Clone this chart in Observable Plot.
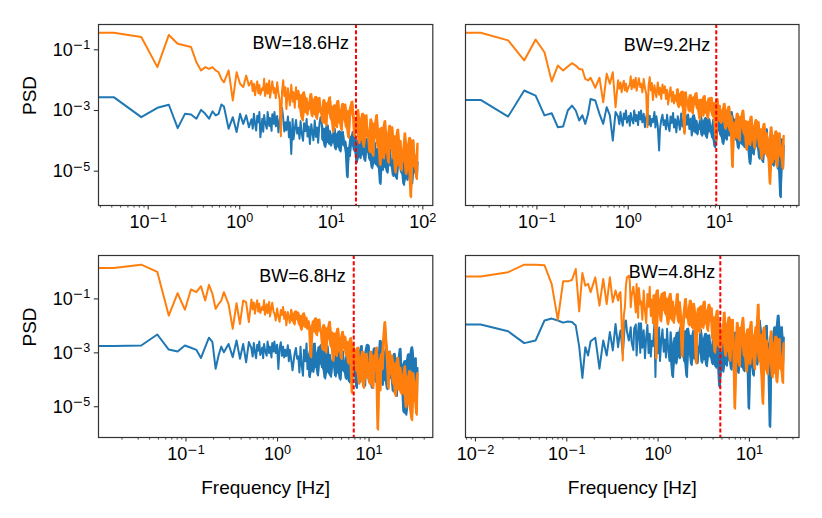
<!DOCTYPE html>
<html><head><meta charset="utf-8">
<script src="https://cdn.jsdelivr.net/npm/d3@7"></script>
<script src="https://cdn.jsdelivr.net/npm/@observablehq/plot@0.6"></script>
<style>
body{margin:0;background:#fff;}
#chart{position:relative;width:822px;height:518px;background:#fff;overflow:hidden;}
#chart svg{position:absolute;}
</style></head><body><div id="chart"></div>
<script>
// FFT bin indices (frequency = bin * df) of the points kept from each spectrum
const bins = [1,2,3,4,5,6,7,8,9,10,11,12,13,14,15,16,18,20,22,24,26,28,30,
32,33,34,35,36,37,38,39,40,42,43,44,45,47,48,50,51,53,54,56,57,59,61,63,65,67,69,71,73,75,77,80,82,84,87,90,92,95,98,101,104,107,110,113,117,120,124,128,131,135,139,144,148,152,157,162,167,171,177,182,187,193,199,205,211,217,224,231,237,245,252,259,267,275,284,292,
301,310,319,329,339,349,359,370,381,393,404,416,429,442,455,469,483,497,512,528,543,560,577,594,612,630,649,668,688,709,730,752,775,798,822,847,872,898,925,953,981,1011,1041,1072,1105,1138,1172,1207,1243,1281,1319,1359,1399,1441,1485,1529,1575,1622,1671,1721,1773,1826,1881,1937,1995,2055,2090];

// frequency resolution of each panel [Hz]
const dfTL = 0.042, dfTR = 0.0242, dfBL = 0.0162, dfBR = 0.0114;
// bandwidth markers [Hz]
const bwTL = 18.6, bwTR = 9.2, bwBL = 6.8, bwBR = 4.8;

// PSD values, stored as log10(PSD)
const tlBlue = [-2.56,-3.22,-2.91,-2.81,-3.58,-3.11,-3.13,-3.27,-2.98,-3.11,-3.27,-3.03,-3.16,-3.11,-2.80,-2.87,-3.60,-3.22,-3.71,-3.11,-3.44,-3.16,-3.55,
-3.29,-3.60,-3.11,-3.45,-3.66,-3.17,-3.39,-3.05,-3.88,-3.27,
-3.70,-3.15,-3.38,-3.60,-3.05,-3.51,-3.25,-3.67,-3.12,-3.44,
-3.05,-3.52,-3.18,-3.72,-3.32,-3.08,-2.92,-3.25,-3.69,-3.39,
-3.65,-3.20,-3.88,-3.39,-4.43,-3.28,-3.95,-3.61,-3.31,-3.76,
-3.57,-3.93,-3.35,-3.75,-4.00,-3.42,-3.68,-3.28,-3.86,-3.53,
-4.10,-3.45,-3.72,-3.98,-3.33,-3.87,-3.56,-4.06,-3.41,-3.22,
-3.45,-3.98,-3.60,-4.20,-3.75,-3.49,-4.09,-3.68,-4.16,-3.83,
-4.05,-3.60,-4.28,-3.79,-4.20,-3.68,-4.35,-3.94,-3.71,-4.16,
-4.02,-4.42,-5.20,-4.22,-4.50,-3.86,-4.14,-3.70,-4.34,-3.98,
-4.70,-3.98,-4.28,-4.57,-3.85,-4.45,-4.11,-4.66,-3.94,-4.36,
-4.00,-4.63,-4.18,-4.90,-4.36,-4.05,-4.77,-4.27,-4.86,-4.45,
-5.42,-4.15,-4.96,-4.38,-4.87,-4.24,-5.05,-4.56,-4.29,-4.83,
-4.68,-5.16,-4.40,-4.92,-5.25,-4.49,-4.82,-4.30,-5.06,-4.63,
-5.45,-4.56,-4.93,-5.29,-4.40,-5.14,-4.72,-5.40,-4.51,-5.03,
-4.50,-5.20,-4.70];
const tlOrange = [-0.44,-0.58,-1.57,-0.51,-0.80,-0.86,-0.91,-1.41,-1.68,-1.57,-1.63,-1.57,-1.68,-1.74,-1.96,-2.07,-1.68,-2.67,-1.74,-2.12,-2.23,-1.85,-2.18,
-2.02,-2.36,-2.12,-2.50,-2.21,-2.04,-2.43,-2.16,-2.48,-2.26,
-2.33,-1.95,-2.52,-2.11,-2.45,-2.01,-2.58,-2.23,-2.04,-2.42,
-2.26,-2.59,-2.07,-2.42,-2.65,-3.85,-2.36,-2.00,-2.52,-2.23,
-2.95,-2.27,-2.55,-2.83,-2.15,-2.71,-2.39,-2.91,-2.23,-2.63,
-2.35,-2.92,-2.50,-3.18,-3.33,-2.40,-3.05,-2.60,-3.14,-2.76,
-2.95,-2.46,-3.20,-2.66,-3.12,-2.55,-3.28,-2.82,-2.58,-3.08,
-2.93,-3.40,-2.65,-3.16,-3.49,-2.75,-3.07,-2.56,-3.30,-2.89,
-3.70,-2.83,-3.19,-3.55,-2.68,-3.39,-2.99,-3.65,-2.78,-3.29,
-2.80,-3.57,-3.02,-3.90,-3.24,-2.86,-2.70,-3.13,-3.85,-3.35,
-3.71,-2.98,-4.08,-3.29,-3.96,-3.10,-4.20,-3.53,-3.16,-3.90,
-3.69,-4.37,-3.29,-4.03,-4.50,-3.42,-3.89,-3.15,-4.23,-3.63,
-4.80,-3.57,-4.08,-4.58,-3.35,-4.37,-3.79,-4.73,-3.50,-4.22,
-3.55,-4.60,-3.85,-5.05,-4.15,-3.63,-4.83,-4.00,-4.98,-4.30,
-4.65,-3.75,-5.10,-4.13,-4.95,-3.90,-5.86,-4.43,-3.98,-4.88,
-4.53,-5.26,-4.09];

const trBlue = [-2.65,-3.20,-2.34,-2.51,-3.16,-3.09,-3.55,-3.53,-3.00,-2.84,-3.00,-3.33,-3.16,-3.44,-3.11,-2.62,-2.67,-3.11,-3.44,-2.89,-3.16,-3.99,-3.05,
-3.20,-3.45,-3.05,-3.33,-3.50,-3.10,-3.28,-3.00,-3.40,-3.18,
-3.50,-3.08,-3.25,-3.43,-3.00,-3.35,-3.15,-3.48,-3.05,-3.30,
-3.00,-3.39,-3.11,-3.55,-3.22,-3.03,-3.47,-3.17,-3.52,-3.28,
-3.39,-3.05,-3.56,-3.19,-3.51,-4.32,-3.62,-3.31,-3.14,-3.48,
-3.32,-3.62,-3.14,-3.47,-3.68,-3.20,-3.41,-3.08,-3.56,-3.29,
-3.72,-3.19,-3.41,-3.63,-3.10,-3.53,-3.29,-3.69,-3.16,-3.47,
-3.13,-3.61,-3.27,-3.82,-3.41,-3.16,-3.72,-3.34,-3.79,-3.48,
-3.61,-3.18,-3.83,-3.36,-3.76,-3.25,-3.90,-3.50,-3.29,-3.72,
-3.53,-3.92,-3.30,-4.21,-4.00,-3.38,-3.65,-3.22,-3.84,-3.49,
-4.10,-3.29,-3.63,-3.96,-3.15,-3.82,-3.44,-3.05,-3.25,-3.72,
-3.30,-3.97,-3.49,-4.25,-3.68,-3.35,-4.11,-3.59,-4.20,-3.78,
-4.05,-3.45,-4.35,-4.76,-4.25,-3.55,-4.45,-3.90,-3.60,-4.20,
-4.05,-4.59,-3.73,-4.32,-4.70,-3.84,-4.21,-3.62,-4.48,-4.00,
-5.00,-4.00,-4.41,-4.82,-3.82,-4.65,-4.17,-4.94,-3.94,-5.86,
-3.95,-4.85,-4.15];
const trOrange = [-0.44,-0.69,-1.35,-0.66,-1.08,-2.04,-1.52,-1.68,-1.55,-1.44,-1.52,-1.63,-1.65,-1.96,-2.01,-1.92,-2.25,-1.92,-2.73,-1.79,-2.12,-1.74,-2.89,
-2.00,-2.28,-2.08,-2.40,-2.16,-2.02,-2.34,-2.12,-2.38,-2.20,
-2.16,-1.87,-2.30,-1.99,-2.25,-1.92,-2.35,-2.09,-1.94,-2.23,
-2.12,-2.40,-1.96,-2.26,-2.45,-3.55,-2.20,-1.90,-2.34,-2.09,
-2.65,-2.17,-2.37,-2.56,-2.08,-2.48,-2.25,-2.62,-2.14,-2.42,
-2.20,-2.62,-2.32,-2.80,-2.44,-2.23,-2.71,-2.38,-2.77,-2.50,
-2.69,-2.30,-2.89,-2.46,-2.82,-2.37,-2.95,-3.77,-2.40,-2.79,
-2.69,-3.03,-2.49,-2.86,-3.10,-2.56,-2.79,-2.42,-2.96,-2.66,
-3.30,-2.64,-2.91,-3.18,-2.52,-3.07,-2.75,-3.26,-2.60,-2.99,
-2.58,-3.19,-2.75,-3.45,-3.99,-2.62,-3.32,-2.84,-3.41,-3.02,
-3.33,-2.78,-3.61,-3.01,-3.52,-2.87,-3.70,-3.19,-4.87,-3.47,
-3.40,-3.90,-3.10,-3.65,-4.00,-3.20,-3.55,-3.00,-3.80,-3.35,
-4.30,-3.37,-3.75,-4.14,-3.20,-3.97,-3.53,-4.25,-3.31,-3.86,
-3.38,-4.23,-3.62,-4.60,-3.87,-3.44,-4.42,-3.75,-4.54,-3.99,
-5.42,-3.55,-4.72,-3.88,-4.59,-3.68,-4.85,-4.14,-3.75,-4.53,
-4.24,-4.92,-3.83];

const blBlue = [-2.75,-2.73,-2.32,-2.88,-2.95,-2.73,-2.81,-2.89,-3.19,-2.79,-2.44,-2.60,-3.59,-3.10,-2.77,-2.98,-2.67,-3.16,-2.54,-3.22,-2.67,-3.35,-2.60,
-2.83,-3.14,-2.64,-2.98,-3.20,-2.70,-2.92,-2.58,-3.08,-2.80,
-3.20,-2.67,-2.89,-3.11,-2.58,-3.01,-2.77,-3.17,-2.64,-2.95,
-2.58,-3.01,-2.70,-3.60,-2.83,-2.61,-3.11,-2.77,-3.17,-2.89,
-3.12,-2.72,-3.31,-2.89,-3.25,-3.65,-3.38,-3.02,-2.82,-3.22,
-3.13,-3.73,-2.77,-3.43,-3.85,-2.89,-3.31,-2.65,-3.61,-3.07,
-3.90,-2.84,-3.28,-3.71,-2.65,-3.53,-3.03,-3.84,-2.78,-3.40,
-2.70,-3.58,-2.95,-3.95,-3.20,-2.76,-3.76,-3.08,-3.89,-3.33,
-3.50,-2.75,-3.88,-3.06,-3.75,-2.88,-4.00,-3.31,-2.94,-3.69,
-3.32,-3.97,-2.93,-3.65,-4.10,-3.06,-3.52,-2.80,-3.84,-3.26,
-4.30,-2.98,-3.53,-4.07,-2.75,-3.84,-3.22,-4.22,-2.90,-2.70,
-2.75,-3.84,-3.06,-4.30,-3.37,-2.83,-4.07,-3.22,-4.22,-3.53,
-2.55,-2.70,-4.19,-3.11,-4.02,-2.87,-4.35,-3.44,-2.95,-3.94,
-3.55,-4.43,-3.03,-3.99,-4.60,-3.20,-3.81,-2.85,-4.25,-3.46,
-5.20,-3.30,-5.30,-4.90,-3.05,-4.21,-3.55,-2.79,-3.22,-4.04,
-3.20,-4.90,-3.56];
const blOrange = [0.15,0.27,0.00,-1.62,-0.79,-1.40,-0.65,-0.75,-0.53,-1.06,-0.48,-0.81,-1.37,-1.19,-1.06,-0.75,-1.19,-2.11,-1.16,-1.93,-1.06,-1.12,-1.86,
-1.02,-1.39,-1.13,-1.55,-1.23,-1.05,-1.47,-1.18,-1.52,-1.29,
-1.41,-1.05,-1.59,-1.20,-1.53,-1.11,-1.65,-1.32,-1.14,-1.50,
-1.52,-1.80,-1.36,-1.66,-1.85,-1.41,-1.60,-1.30,-1.74,-1.49,
-1.98,-1.49,-1.69,-1.89,-1.40,-1.81,-1.57,-1.95,-1.46,-1.75,
-1.50,-1.96,-1.63,-2.15,-1.76,-1.53,-2.05,-1.70,-2.12,-1.83,
-2.07,-3.16,-2.28,-1.83,-2.21,-1.72,-2.35,-1.97,-1.76,-2.18,
-2.31,-2.89,-1.97,-2.60,-3.00,-2.08,-2.48,-1.85,-2.77,-2.25,
-3.30,-2.28,-2.70,-3.12,-2.10,-2.94,-2.46,-3.24,-2.22,-2.82,
-2.40,-3.10,-2.60,-3.40,-2.80,-2.45,-4.50,-2.70,-3.35,-2.90,
-3.70,-2.80,-4.15,-3.18,-4.00,-2.95,-4.30,-3.48,-3.03,-3.93,
-3.40,-4.15,-2.95,-3.78,-4.30,-3.10,-3.63,-2.80,-5.85,-3.33,
-4.40,-3.04,-3.60,-2.40,-1.86,-2.55,-3.28,-4.32,-2.96,-3.76,
-3.10,-4.15,-3.40,-4.60,-3.70,-3.18,-4.38,-3.55,-4.53,-3.85,
-4.52,-3.50,-5.03,-3.93,-4.86,-3.67,-5.20,-5.50,-3.76,-4.78,
-4.10,-5.30,-3.75];

const brBlue = [-1.95,-2.20,-2.64,-2.54,-1.80,-1.73,-1.80,-1.88,-1.84,-1.86,-1.99,-2.77,-3.93,-2.79,-3.10,-2.57,-2.44,-3.59,-2.54,-3.10,-2.23,-2.91,-1.93,
-2.79,-2.40,-2.17,-2.60,-3.04,-2.50,-1.85,-1.80,-2.20,-2.54,
-2.30,-2.05,-2.60,-2.90,-2.10,-1.95,-3.10,-2.20,-1.90,-3.00,
-1.90,-2.81,-2.16,-3.20,-2.42,-1.97,-3.01,-2.29,-3.14,-2.55,
-2.75,-1.92,-3.90,-2.27,-3.02,-2.06,-3.30,-2.54,-2.13,-2.96,
-2.51,-3.17,-2.11,-2.84,-3.30,-2.24,-2.71,-3.90,-3.04,-2.44,
-3.40,-2.25,-2.73,-3.20,-2.05,-3.00,-2.46,-3.33,-2.19,-3.90,
-2.10,-3.05,-2.37,-3.45,-2.64,-2.17,-3.25,-2.51,-3.38,-2.78,
-2.96,-2.15,-3.37,-2.49,-3.23,-2.29,-3.50,-2.76,-2.35,-3.16,
-2.74,-3.42,-2.34,-3.08,-3.55,-2.47,-2.94,-4.27,-3.28,-2.67,
-3.70,-2.47,-2.98,-3.48,-2.25,-3.27,-2.69,-3.63,-2.40,-3.12,
-2.25,-3.30,-2.55,-3.75,-2.85,-2.33,-3.53,-2.70,-3.68,-3.00,
-3.19,-2.20,-5.07,-2.61,-3.52,-2.37,-3.85,-2.94,-2.45,-3.44,
-2.80,-1.80,-2.20,-3.30,-4.00,-2.40,-3.10,-2.00,-3.60,-2.70,
-5.75,-2.35,-3.05,-3.75,-2.05,-3.45,-2.65,-1.62,-2.25,-3.25,
-2.05,-3.38,-2.43];
const brOrange = [-0.17,-0.01,0.27,0.27,0.25,-0.45,-1.78,-0.35,-0.35,-0.30,0.11,-1.46,-0.04,-0.51,-0.44,-0.75,-0.20,-1.25,-0.26,-1.19,-0.20,-1.12,-0.69,
-1.06,-0.80,-0.75,-1.90,-3.28,-1.60,-1.31,-0.50,-0.20,-0.14,
-0.35,-1.31,-0.90,-0.55,-0.81,-1.50,-0.45,-1.70,-0.60,-1.20,
-1.09,-1.77,-0.69,-1.43,-1.90,-0.82,-1.29,-0.55,-1.63,-1.02,
-1.90,-0.86,-1.29,-3.22,-0.68,-1.53,-1.05,-1.84,-0.80,-1.41,
-0.75,-1.59,-0.99,-1.95,-1.23,-0.81,-1.77,-1.11,-1.89,-1.35,
-1.53,-0.82,-1.88,-1.12,-1.76,-3.15,-2.00,-1.35,-1.00,-1.71,
-1.41,-1.99,-1.06,-1.70,-2.10,-1.18,-1.58,-3.40,-1.87,-1.35,
-2.25,-1.27,-1.68,-2.08,-1.10,-1.91,-1.45,-2.19,-1.21,-1.79,
-1.35,-2.51,-1.68,-3.00,-2.01,-1.43,-2.75,-1.85,-2.92,-2.18,
-2.58,-1.50,-3.12,-1.95,-2.94,-1.68,-3.30,-2.31,-1.77,-2.85,
-5.07,-3.32,-1.88,-2.87,-3.50,-2.06,-2.69,-1.70,-3.14,-2.33,
-3.70,-2.13,-2.78,-3.42,-1.85,-3.15,-2.41,-3.61,-2.04,-2.96,
-1.21,-3.32,-2.34,-3.90,-4.90,-2.05,-3.61,-2.54,-3.80,-2.93,
-3.34,-2.20,-3.91,-2.68,-3.72,-2.39,-4.10,-3.06,-2.49,-3.63,
-3.19,-4.12,-2.64];

// axis texts
const yLabel = "PSD";
const xLabel = "Frequency [Hz]";
const yTickValues = [1e-1, 1e-3, 1e-5];

const blue = "#1f77b4", orange = "#ff7f0e";
const font = "'Liberation Sans', Arial, Helvetica, sans-serif";

// fillB / fillO: bin from which the spectrum is so dense that it reads as a solid band
const panels = [
  {left:0, top:0, width:440, height:240, mL:98, mR:7.7, mT:24, mB:35, df:dfTL, bw:bwTL, blue:tlBlue, orange:tlOrange,
   xDomain:[0.02864,128.5], yDomain:[7.41e-7,0.682], yAxis:true, xTitle:false, textDy:18.5, textDx:-7, fillB:187, fillO:104},
  {left:440, top:0, width:382, height:240, mL:25, mR:23.5, mT:24, mB:35, df:dfTR, bw:bwTR, blue:trBlue, orange:trOrange,
   xDomain:[0.01652,74.13], yDomain:[7.41e-7,0.682], yAxis:false, xTitle:false, textDy:20.5, textDx:-6, fillB:205, fillO:139},
  {left:0, top:240, width:440, height:278, mL:98, mR:7.7, mT:15, mB:81, df:dfBL, bw:bwBL, blue:blBlue, orange:blOrange,
   xDomain:[0.01107,49.66], yDomain:[7.24e-7,4.07], yAxis:true, xTitle:true, textDy:20.5, textDx:-8, fillB:135, fillO:87},
  {left:440, top:240, width:382, height:278, mL:25, mR:23.5, mT:15, mB:81, df:dfBR, bw:bwBR, blue:brBlue, orange:brOrange,
   xDomain:[0.00778,34.91], yDomain:[7.24e-7,4.07], yAxis:false, xTitle:true, textDy:16.7, textDx:-5, fillB:120, fillO:77}
];

function logTicks([a, b]) {
  const major = [], minor = [];
  for (let e = Math.floor(Math.log10(a)); e <= Math.ceil(Math.log10(b)); e++) {
    for (let m = 1; m <= 9; m++) {
      const v = +(m * Math.pow(10, e)).toPrecision(6);
      if (v >= a && v <= b) (m === 1 ? major : minor).push(v);
    }
  }
  return {major, minor};
}
const fmt = d => "10^" + Math.round(Math.log10(d));

// envelope of neighbouring samples: fills the gaps of a densely oscillating trace
function band(rows, key, fromBin) {
  const out = [];
  for (let i = 0; i < rows.length; i++) {
    if (bins[i] < fromBin) continue;
    const a = rows[Math.max(0, i - 1)][key], b = rows[i][key], c = rows[Math.min(rows.length - 1, i + 1)][key];
    out.push({f: rows[i].f, lo: Math.min(a, b, c), hi: Math.max(a, b, c)});
  }
  return out;
}

function supers(svg) {
  d3.select(svg).selectAll("text").each(function() {
    const m = /^10\^(-?)(\d+)$/.exec(this.textContent);
    if (!m) return;
    const s = d3.select(this);
    s.text(null);
    s.append("tspan").text("10");
    const sup = s.append("tspan").attr("dy", "-0.5em").attr("font-size", "70%");
    if (m[1]) sup.append("tspan").attr("font-family", "'DejaVu Sans', sans-serif").text("\u2212");
    sup.append("tspan").text(m[2]);
  });
}

const chart = document.getElementById("chart");
for (const p of panels) {
  if (p.blue.length !== bins.length || p.orange.length !== bins.length)
    throw new Error(`length mismatch ${p.bw}: ${p.blue.length} ${p.orange.length} vs ${bins.length}`);
  const rows = bins.map((k, i) => ({f: k * p.df, b: Math.pow(10, p.blue[i]), o: Math.pow(10, p.orange[i])}));
  // zero-frequency bin, clipped at the left edge as in a log plot
  const data = [{f: p.xDomain[0] / 10, b: rows[0].b, o: rows[0].o}, ...rows];
  const {major, minor} = logTicks(p.xDomain);
  const marks = [
    Plot.areaY(band(rows, "b", p.fillB), {x: "f", y1: "lo", y2: "hi", fill: blue, clip: true}),
    Plot.line(data, {x: "f", y: "b", stroke: blue, strokeWidth: 2, clip: true}),
    Plot.areaY(band(rows, "o", p.fillO), {x: "f", y1: "lo", y2: "hi", fill: orange, clip: true}),
    Plot.line(data, {x: "f", y: "o", stroke: orange, strokeWidth: 2, clip: true}),
    Plot.ruleX([p.bw], {stroke: "#ff0000", strokeWidth: 2, strokeDasharray: "4,2.2"}),
    Plot.text([{x: p.bw, t: `BW=${p.bw}Hz`}], {x: "x", text: "t", frameAnchor: "top", dy: p.textDy, dx: p.textDx,
      textAnchor: "end", lineAnchor: "middle", fontSize: 18, fill: "#000"}),
    Plot.frame({stroke: "#333", strokeWidth: 1.2}),
    Plot.axisX(major, {tickSize: 4.5, tickPadding: 5.5, tickFormat: fmt, fontSize: 18, stroke: "#333", fill: "#000", strokeWidth: 1.1, label: null}),
    Plot.axisX(minor, {tickSize: 2.6, tickFormat: () => "", stroke: "#333", strokeWidth: 0.9, label: null})
  ];
  if (p.yAxis) {
    marks.push(Plot.axisY(yTickValues, {tickSize: 4.2, tickPadding: 4, tickFormat: fmt, fontSize: 18, stroke: "#333", fill: "#000", strokeWidth: 1.1, label: null}));
    marks.push(Plot.text([yLabel], {frameAnchor: "left", dx: -69, rotate: -90, fontSize: 19, lineAnchor: "middle", fill: "#000"}));
  }
  if (p.xTitle) {
    marks.push(Plot.text([xLabel], {frameAnchor: "bottom", dy: 50, fontSize: 19, lineAnchor: "middle", fill: "#000"}));
  }
  const svg = Plot.plot({
    width: p.width, height: p.height,
    marginLeft: p.mL, marginRight: p.mR, marginTop: p.mT, marginBottom: p.mB,
    style: {fontFamily: font, fontSize: "18px", color: "#000", background: "transparent", overflow: "visible"},
    x: {type: "log", domain: p.xDomain},
    y: {type: "log", domain: p.yDomain, axis: p.yAxis ? undefined : null},
    marks
  });
  supers(svg);
  svg.style.position = "absolute";
  svg.style.left = p.left + "px";
  svg.style.top = p.top + "px";
  svg.style.maxWidth = "none";
  chart.appendChild(svg);
}
</script>
</body></html>
